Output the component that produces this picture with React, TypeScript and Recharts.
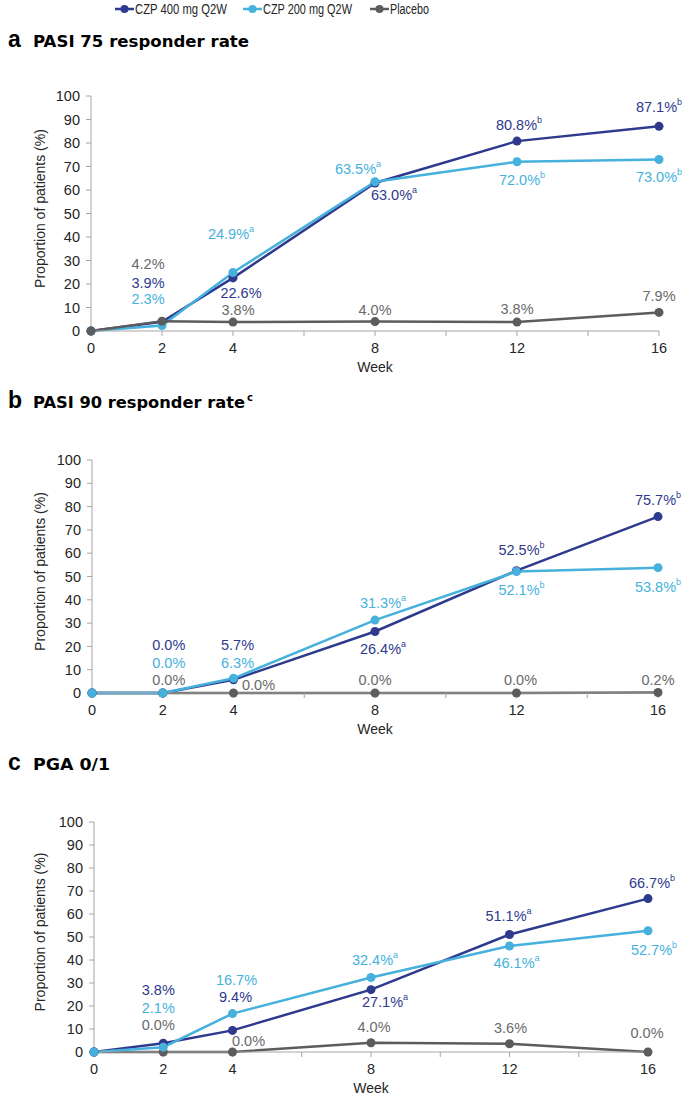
import { LabelList, Line, LineChart, XAxis, YAxis } from 'recharts';

const weeks = [0, 2, 4, 8, 12, 16];
const weekTicks = [0, 2, 4, 6, 8, 10, 12, 14, 16];
const weekTickLabels = [0, 2, 4, 8, 12, 16];
const percentTicks = [0, 10, 20, 30, 40, 50, 60, 70, 80, 90, 100];
const seriesNames = ['CZP 400 mg Q2W', 'CZP 200 mg Q2W', 'Placebo'];

// a: PASI 75
const pasi75Czp400 = [0, 3.9, 22.6, 63.0, 80.8, 87.1];
const pasi75Czp200 = [0, 2.3, 24.9, 63.5, 72.0, 73.0];
const pasi75Placebo = [0, 4.2, 3.8, 4.0, 3.8, 7.9];
const pasi75Czp400Notes = ['', '', '', 'a', 'b', 'b'];
const pasi75Czp200Notes = ['', '', 'a', 'a', 'b', 'b'];

// b: PASI 90
const pasi90Czp400 = [0, 0, 5.7, 26.4, 52.5, 75.7];
const pasi90Czp200 = [0, 0, 6.3, 31.3, 52.1, 53.8];
const pasi90Placebo = [0, 0, 0, 0, 0, 0.2];
const pasi90Czp400Notes = ['', '', '', 'a', 'b', 'b'];
const pasi90Czp200Notes = ['', '', '', 'a', 'b', 'b'];

// c: PGA 0/1
const pgaCzp400 = [0, 3.8, 9.4, 27.1, 51.1, 66.7];
const pgaCzp200 = [0, 2.1, 16.7, 32.4, 46.1, 52.7];
const pgaPlacebo = [0, 0, 0, 4.0, 3.6, 0];
const pgaCzp400Notes = ['', '', '', 'a', 'a', 'b'];
const pgaCzp200Notes = ['', '', '', 'a', 'a', 'b'];

const noNotes = ['', '', '', '', '', ''];

// label nudges (dx, dy) from each point, layout only
type Nudges = ([number, number] | null)[];
const nudgeA400: Nudges = [null, [-14, -39], [8, 15], [19, 12], [2, -16], [0, -19]];
const nudgeA200: Nudges = [null, [-14, -27], [-2, -38], [-17, -13], [5, 18], [0, 18]];
const nudgeAPbo: Nudges = [null, [-14, -57], [5, -12], [0, -12], [0, -13], [0, -16]];
const nudgeB400: Nudges = [null, [6, -48], [4, -35], [8, 18], [5, -21], [0, -17]];
const nudgeB200: Nudges = [null, [6, -30], [4, -15], [8, -17], [5, 18], [0, 19]];
const nudgeBPbo: Nudges = [null, [6, -13], [25, -8], [0, -13], [4, -13], [0, -13]];
const nudgeC400: Nudges = [null, [-5, -53], [3, -33], [14, 12], [-1, -18], [4, -16]];
const nudgeC200: Nudges = [null, [-5, -39], [4, -34], [4, -17], [7, 17], [6, 19]];
const nudgeCPbo: Nudges = [null, [-5, -27], [16, -11], [3, -16], [1, -16], [-1, -19]];

const DARK = '#2E3A8D';
const LIGHT = '#45B1DC';
const GREY = '#5C5C5C';
const GREY_TEXT = '#6A6A6A';
const AXIS = '#A6A6A6';
const FONT = "'Liberation Sans', Arial, sans-serif";
const TITLE_FONT = "'DejaVu Sans', Verdana, sans-serif";

const buildRows = (a: number[], b: number[], p: number[]) =>
  weeks.map((week, i) => ({ week, czp400: a[i], czp200: b[i], placebo: p[i] }));

function pointLabel(notes: string[], nudges: Nudges, color: string) {
  return (props: any) => {
    const nudge = nudges[props.index];
    if (!nudge) return null;
    const px = props.x ?? props.viewBox?.x;
    const py = props.y ?? props.viewBox?.y;
    const note = notes[props.index];
    return (
      <text
        x={px + nudge[0]}
        y={py + nudge[1]}
        textAnchor="middle"
        dominantBaseline="central"
        fill={color}
        fontSize={14.5}
        fontFamily={FONT}
      >
        {Number(props.value).toFixed(1)}%
        {note ? (
          <tspan fontSize={9} dy={-5}>
            {note}
          </tspan>
        ) : null}
      </text>
    );
  };
}

interface SeriesSpec {
  key: 'czp400' | 'czp200' | 'placebo';
  color: string;
  labelColor: string;
  notes: string[];
  nudges: Nudges;
}

interface PanelProps {
  rows: ReturnType<typeof buildRows>;
  plotTop: number;
  plotBottom: number;
  plotLeft: number;
  plotRight: number;
  series: SeriesSpec[];
}

function Panel({ rows, plotTop, plotBottom, plotLeft, plotRight, series }: PanelProps) {
  const marginTop = 30;
  const height = plotBottom - plotTop + marginTop + 50;
  const tickStyle = { fill: '#262626', fontSize: 14.5, fontFamily: FONT };
  return (
    <div style={{ position: 'absolute', left: 0, top: plotTop - marginTop }}>
      <LineChart
        width={685}
        height={height}
        data={rows}
        margin={{ top: marginTop, right: 685 - plotRight, bottom: 5, left: 0 }}
      >
        <XAxis
          dataKey="week"
          type="number"
          domain={[0, 16]}
          ticks={weekTicks}
          interval={0}
          tickFormatter={(v) => (weekTickLabels.includes(v) ? String(v) : '')}
          stroke={AXIS}
          tickSize={5}
          tickMargin={7}
          tick={tickStyle}
          height={45}
          label={({ viewBox }: any) => (
            <text
              x={viewBox.x + viewBox.width / 2}
              y={viewBox.y + 36}
              textAnchor="middle"
              dominantBaseline="central"
              fill="#262626"
              fontSize={14}
              fontFamily={FONT}
            >
              Week
            </text>
          )}
        />
        <YAxis
          type="number"
          domain={[0, 100]}
          ticks={percentTicks}
          interval={0}
          width={plotLeft}
          stroke={AXIS}
          tickSize={5}
          tickMargin={6}
          tick={tickStyle}
          label={({ viewBox }: any) => (
            <text
              transform={`translate(40, ${viewBox.y + viewBox.height / 2 - 5}) rotate(-90)`}
              textAnchor="middle"
              dominantBaseline="central"
              fill="#262626"
              fontSize={14}
              fontFamily={FONT}
            >
              Proportion of patients (%)
            </text>
          )}
        />
        {series.map((s) => (
          <Line
            key={s.key}
            dataKey={s.key}
            type="linear"
            stroke={s.color}
            strokeWidth={2.5}
            dot={{ r: 4.5, fill: s.color, stroke: 'none' }}
            activeDot={false}
            isAnimationActive={false}
          >
            <LabelList dataKey={s.key} content={pointLabel(s.notes, s.nudges, s.labelColor)} />
          </Line>
        ))}
      </LineChart>
    </div>
  );
}

function Headings() {
  const letter = { fontFamily: FONT, fontWeight: 700, fontSize: 23, fill: '#000' };
  const title = { fontFamily: TITLE_FONT, fontWeight: 700, fontSize: 16, fill: '#000' };
  const legendX = [115, 243, 370];
  const legendWidths = [92, 89, 39];
  const legendColors = [DARK, LIGHT, GREY];
  return (
    <svg width={685} height={1096} style={{ position: 'absolute', left: 0, top: 0 }}>
      {seriesNames.map((name, i) => (
        <g key={name}>
          <line x1={legendX[i]} x2={legendX[i] + 19} y1={9} y2={9} stroke={legendColors[i]} strokeWidth={2.5} />
          <circle cx={legendX[i] + 9.5} cy={9} r={4} fill={legendColors[i]} />
          <text
            x={legendX[i] + 20}
            y={14}
            fontFamily={FONT}
            fontSize={14}
            fill="#262626"
            textLength={legendWidths[i]}
            lengthAdjust="spacingAndGlyphs"
          >
            {name}
          </text>
        </g>
      ))}
      <text x={8} y={47} {...letter}>a</text>
      <text x={33} y={47} {...title} textLength={216} lengthAdjust="spacingAndGlyphs">
        PASI 75 responder rate
      </text>
      <text x={8} y={408} {...letter}>b</text>
      <text x={33} y={408} {...title} textLength={212} lengthAdjust="spacingAndGlyphs">
        PASI 90 responder rate
      </text>
      <text x={247} y={401} {...title} fontSize={10}>c</text>
      <text x={8} y={770} {...letter}>c</text>
      <text x={33} y={770} {...title} textLength={77} lengthAdjust="spacingAndGlyphs">
        PGA 0/1
      </text>
    </svg>
  );
}

export default function App() {
  const rowsA = buildRows(pasi75Czp400, pasi75Czp200, pasi75Placebo);
  const rowsB = buildRows(pasi90Czp400, pasi90Czp200, pasi90Placebo);
  const rowsC = buildRows(pgaCzp400, pgaCzp200, pgaPlacebo);

  return (
    <div style={{ position: 'absolute', left: 0, top: 0, width: 685, height: 1096, background: '#fff' }}>
      <Headings />
      <Panel
        rows={rowsA}
        plotTop={96}
        plotBottom={331}
        plotLeft={91}
        plotRight={659}
        series={[
          { key: 'czp400', color: DARK, labelColor: DARK, notes: pasi75Czp400Notes, nudges: nudgeA400 },
          { key: 'czp200', color: LIGHT, labelColor: LIGHT, notes: pasi75Czp200Notes, nudges: nudgeA200 },
          { key: 'placebo', color: GREY, labelColor: GREY_TEXT, notes: noNotes, nudges: nudgeAPbo },
        ]}
      />
      <Panel
        rows={rowsB}
        plotTop={460}
        plotBottom={693}
        plotLeft={92}
        plotRight={658}
        series={[
          { key: 'placebo', color: GREY, labelColor: GREY_TEXT, notes: noNotes, nudges: nudgeBPbo },
          { key: 'czp400', color: DARK, labelColor: DARK, notes: pasi90Czp400Notes, nudges: nudgeB400 },
          { key: 'czp200', color: LIGHT, labelColor: LIGHT, notes: pasi90Czp200Notes, nudges: nudgeB200 },
        ]}
      />
      <Panel
        rows={rowsC}
        plotTop={822}
        plotBottom={1052}
        plotLeft={94}
        plotRight={648}
        series={[
          { key: 'placebo', color: GREY, labelColor: GREY_TEXT, notes: noNotes, nudges: nudgeCPbo },
          { key: 'czp400', color: DARK, labelColor: DARK, notes: pgaCzp400Notes, nudges: nudgeC400 },
          { key: 'czp200', color: LIGHT, labelColor: LIGHT, notes: pgaCzp200Notes, nudges: nudgeC200 },
        ]}
      />
    </div>
  );
}
